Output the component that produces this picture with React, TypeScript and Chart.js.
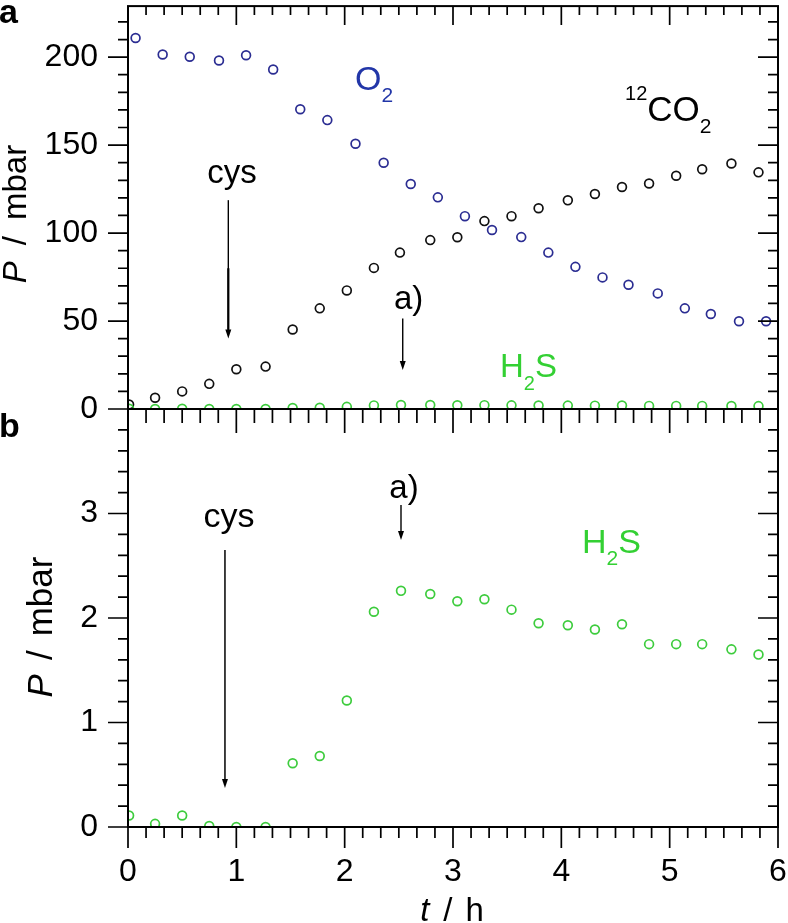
import React, { useEffect, useRef } from 'react';
import { Chart, registerables } from 'chart.js';
Chart.register(...registerables);

const FONT = '"Liberation Sans", Arial, Helvetica, sans-serif';

// ---- data (time in h, pressure in mbar) ----
const timeO2 = [0.07, 0.32, 0.57, 0.84, 1.09, 1.34, 1.59, 1.84, 2.10, 2.36, 2.61, 2.86, 3.11, 3.36, 3.63, 3.88, 4.13, 4.38, 4.62, 4.89, 5.14, 5.38, 5.64, 5.89];
const o2 = [210.9, 201.5, 200.2, 198.1, 201.1, 193, 170.4, 164.2, 150.8, 140, 127.9, 120.3, 109.6, 101.7, 97.7, 88.9, 80.8, 74.8, 70.6, 65.7, 57.2, 54, 49.9, 49.9];
const timeCO2 = [0.01, 0.25, 0.50, 0.75, 1.00, 1.27, 1.52, 1.77, 2.02, 2.27, 2.51, 2.79, 3.04, 3.29, 3.54, 3.79, 4.06, 4.31, 4.56, 4.81, 5.06, 5.30, 5.57, 5.82];
const co2 = [2.6, 6.4, 10, 14.3, 22.6, 24.1, 45.2, 57.2, 67.4, 80.2, 88.9, 96, 97.6, 106.8, 109.6, 114.1, 118.6, 122.2, 126.2, 128.2, 132.6, 136.3, 139.5, 134.5];
const timeH2S = [0.01, 0.25, 0.50, 0.75, 1.00, 1.27, 1.52, 1.77, 2.02, 2.27, 2.52, 2.79, 3.04, 3.29, 3.54, 3.79, 4.06, 4.31, 4.56, 4.81, 5.06, 5.30, 5.57, 5.82];
const h2s = [0.11, 0.03, 0.11, 0.01, 0.0, 0.0, 0.61, 0.68, 1.21, 2.06, 2.26, 2.23, 2.16, 2.18, 2.08, 1.95, 1.93, 1.89, 1.94, 1.75, 1.75, 1.75, 1.70, 1.65];

const xTicks = [0, 1, 2, 3, 4, 5, 6];
const topYTicks = [0, 50, 100, 150, 200];
const bottomYTicks = [0, 1, 2, 3];

const C_O2 = '#2b2d92';
const C_O2_LABEL = '#2236a8';
const C_CO2 = '#111111';
const C_H2S = '#3dcc3d';
const C_H2S_LABEL = '#33d033';

const pts = (xs: number[], ys: number[]) => xs.map((x, i) => ({ x, y: ys[i] }));

type Part = { t: string; size: number; style?: string; dy?: number; color?: string; gap?: number };

function drawParts(ctx: CanvasRenderingContext2D, parts: Part[], x: number, y: number, align: 'left' | 'center') {
  let total = 0;
  const widths = parts.map((p) => {
    ctx.font = `${p.style || ''} ${p.size}px ${FONT}`;
    const w = ctx.measureText(p.t).width + (p.gap || 0);
    total += w;
    return w;
  });
  let cx = align === 'center' ? x - total / 2 : x;
  ctx.textAlign = 'left';
  ctx.textBaseline = 'alphabetic';
  parts.forEach((p, i) => {
    ctx.font = `${p.style || ''} ${p.size}px ${FONT}`;
    ctx.fillStyle = p.color || '#000';
    ctx.fillText(p.t, cx, y + (p.dy || 0));
    cx += widths[i];
  });
}

function arrow(ctx: CanvasRenderingContext2D, x: number, y1: number, y2: number, lw = 1.5) {
  ctx.save();
  ctx.strokeStyle = '#000';
  ctx.fillStyle = '#000';
  ctx.lineWidth = lw;
  ctx.beginPath();
  ctx.moveTo(x, y1);
  ctx.lineTo(x, y2 - 6);
  ctx.stroke();
  ctx.beginPath();
  ctx.moveTo(x - 3, y2 - 9);
  ctx.lineTo(x + 3, y2 - 9);
  ctx.lineTo(x, y2);
  ctx.closePath();
  ctx.fill();
  ctx.restore();
}

function vTitle(ctx: CanvasRenderingContext2D, bx: number, cy: number, size: number, gap: number) {
  ctx.save();
  ctx.translate(bx, cy);
  ctx.rotate(-Math.PI / 2);
  drawParts(ctx, [
    { t: 'P', size, style: 'italic', gap },
    { t: '/', size, gap },
    { t: 'mbar', size },
  ], 0, 0, 'center');
  ctx.restore();
}

type TickCfg = { yStep: number; yMajor: number; yTop: number; topTicks: boolean; bottomLen: [number, number]; bottomDir: number };

function framePlugin(cfg: TickCfg, extra: (chart: any) => void) {
  return {
    id: 'frame',
    afterDraw(chart: any) {
      const { ctx, chartArea: a, scales } = chart;
      const xs = scales.x;
      const ys = scales.y;
      ctx.save();
      ctx.strokeStyle = '#000';
      ctx.lineWidth = 2;
      ctx.strokeRect(a.left, a.top, a.right - a.left, a.bottom - a.top);
      ctx.lineWidth = 1.7;
      ctx.beginPath();
      const ny = Math.round(cfg.yTop / cfg.yStep);
      for (let i = 0; i <= ny; i++) {
        const v = i * cfg.yStep;
        const py = ys.getPixelForValue(v);
        const major = Math.abs(v / cfg.yMajor - Math.round(v / cfg.yMajor)) < 1e-6;
        const len = major ? 20 : 10;
        ctx.moveTo(a.left - len, py);
        ctx.lineTo(a.left, py);
        ctx.moveTo(a.right - len, py);
        ctx.lineTo(a.right, py);
      }
      for (let i = 0; i <= 36; i++) {
        const v = i / 6;
        const px = xs.getPixelForValue(v);
        const major = i % 6 === 0;
        if (cfg.topTicks) {
          const lt = major ? 19 : 9;
          ctx.moveTo(px, a.top);
          ctx.lineTo(px, a.top + lt);
        }
        const lb = major ? cfg.bottomLen[0] : cfg.bottomLen[1];
        ctx.moveTo(px, a.bottom);
        ctx.lineTo(px, a.bottom + lb * cfg.bottomDir);
      }
      ctx.stroke();
      ctx.restore();
      ctx.save();
      extra(chart);
      ctx.restore();
    },
  };
}

const baseScatter = (label: string, data: { x: number; y: number }[], color: string) => ({
  label,
  data,
  showLine: false,
  pointStyle: 'circle',
  pointRadius: 4.4,
  pointHoverRadius: 4.4,
  pointBorderWidth: 1.7,
  borderColor: color,
  backgroundColor: 'rgba(0,0,0,0)',
});

function configTop(): any {
  return {
    type: 'scatter',
    data: {
      datasets: [
        baseScatter('H2S', pts(timeH2S, h2s), C_H2S),
        baseScatter('12CO2', pts(timeCO2, co2), C_CO2),
        baseScatter('O2', pts(timeO2, o2), C_O2),
      ],
    },
    options: {
      responsive: false,
      animation: false,
      events: [],
      layout: { padding: { left: 0, right: 10, top: 4, bottom: 923 - 409 } },
      plugins: { legend: { display: false }, tooltip: { enabled: false } },
      scales: {
        x: { type: 'linear', min: xTicks[0], max: xTicks[xTicks.length - 1], display: false },
        y: {
          type: 'linear',
          position: 'left',
          min: 0,
          max: 229,
          afterFit(s: any) { s.width = 128; s.paddingTop = 0; s.paddingBottom = 0; },
          afterBuildTicks(s: any) { s.ticks = topYTicks.map((v) => ({ value: v })); },
          border: { display: false },
          grid: { display: true, drawOnChartArea: false, drawTicks: true, tickLength: 20, color: 'rgba(0,0,0,0)' },
          ticks: { padding: 10, color: '#000', font: { family: FONT, size: 32 } },
        },
      },
    },
    plugins: [
      framePlugin({ yStep: 10, yMajor: 50, yTop: 220, topTicks: true, bottomLen: [24, 14], bottomDir: 1 }, (chart) => {
        const { ctx, scales } = chart;
        const X = (v: number) => scales.x.getPixelForValue(v);
        const Y = (v: number) => scales.y.getPixelForValue(v);
        drawParts(ctx, [{ t: 'a', size: 34, style: 'bold' }], -1, 23, 'left');
        vTitle(ctx, 26, 214, 33, 16);
        drawParts(ctx, [{ t: 'cys', size: 33 }], X(0.96), Y(128.4), 'center');
        arrow(ctx, X(0.926), Y(118.7), Y(40.1), 1.4);
        ctx.save();
        ctx.strokeStyle = '#000';
        ctx.lineWidth = 2.2;
        ctx.beginPath();
        ctx.moveTo(X(0.926), Y(80));
        ctx.lineTo(X(0.926), Y(45));
        ctx.stroke();
        ctx.restore();
        drawParts(ctx, [{ t: 'a)', size: 33 }], X(2.59), Y(57.1), 'center');
        arrow(ctx, X(2.536), Y(51.5), Y(22.1), 1.4);
        drawParts(ctx, [
          { t: 'O', size: 34, color: C_O2_LABEL },
          { t: '2', size: 21, dy: 12, color: C_O2_LABEL },
        ], X(2.095), Y(181.5), 'left');
        drawParts(ctx, [
          { t: '12', size: 20, dy: -21 },
          { t: 'CO', size: 35 },
          { t: '2', size: 21, dy: 12 },
        ], X(4.588), Y(163.5), 'left');
        drawParts(ctx, [
          { t: 'H', size: 33, color: C_H2S_LABEL },
          { t: '2', size: 20, dy: 13, color: C_H2S_LABEL },
          { t: 'S', size: 33, color: C_H2S_LABEL },
        ], X(3.434), Y(18.1), 'left');
      }),
    ],
  };
}

function configBottom(): any {
  return {
    type: 'scatter',
    data: { datasets: [baseScatter('H2S', pts(timeH2S, h2s), C_H2S)] },
    options: {
      responsive: false,
      animation: false,
      events: [],
      layout: { padding: { left: 0, right: 10, top: 409, bottom: 0 } },
      plugins: { legend: { display: false }, tooltip: { enabled: false } },
      scales: {
        x: {
          type: 'linear',
          position: 'bottom',
          min: xTicks[0],
          max: xTicks[xTicks.length - 1],
          afterFit(s: any) { s.height = 96; s.paddingLeft = 0; s.paddingRight = 0; },
          afterBuildTicks(s: any) { s.ticks = xTicks.map((v) => ({ value: v })); },
          border: { display: false },
          grid: { display: true, drawOnChartArea: false, drawTicks: true, tickLength: 20, color: 'rgba(0,0,0,0)' },
          ticks: { padding: 6, color: '#000', maxRotation: 0, autoSkip: false, font: { family: FONT, size: 32 } },
        },
        y: {
          type: 'linear',
          position: 'left',
          min: 0,
          max: 4,
          afterFit(s: any) { s.width = 128; s.paddingTop = 0; s.paddingBottom = 0; },
          afterBuildTicks(s: any) { s.ticks = bottomYTicks.map((v) => ({ value: v })); },
          border: { display: false },
          grid: { display: true, drawOnChartArea: false, drawTicks: true, tickLength: 20, color: 'rgba(0,0,0,0)' },
          ticks: { padding: 10, color: '#000', font: { family: FONT, size: 32 } },
        },
      },
    },
    plugins: [
      framePlugin({ yStep: 0.2, yMajor: 1, yTop: 3.8, topTicks: false, bottomLen: [21, 11], bottomDir: 1 }, (chart) => {
        const { ctx, scales } = chart;
        const X = (v: number) => scales.x.getPixelForValue(v);
        const Y = (v: number) => scales.y.getPixelForValue(v);
        drawParts(ctx, [{ t: 'b', size: 34, style: 'bold' }], -1, 437, 'left');
        vTitle(ctx, 52, 627, 35, 14);
        drawParts(ctx, [
          { t: 't', size: 33, style: 'italic', gap: 14 },
          { t: '/', size: 33, gap: 13 },
          { t: 'h', size: 33 },
        ], 452, 921, 'center');
        drawParts(ctx, [{ t: 'cys', size: 34 }], X(0.932), Y(2.871), 'center');
        arrow(ctx, X(0.895), Y(2.651), Y(0.373), 1.5);
        drawParts(ctx, [{ t: 'a)', size: 33 }], X(2.548), Y(3.148), 'center');
        arrow(ctx, X(2.52), Y(3.081), Y(2.746), 1.4);
        drawParts(ctx, [
          { t: 'H', size: 34, color: C_H2S_LABEL },
          { t: '2', size: 21, dy: 12, color: C_H2S_LABEL },
          { t: 'S', size: 34, color: C_H2S_LABEL },
        ], X(4.191), Y(2.622), 'left');
      }),
    ],
  };
}

export default function App() {
  const refA = useRef<HTMLCanvasElement>(null);
  const refB = useRef<HTMLCanvasElement>(null);
  useEffect(() => {
    const a = new Chart(refA.current as HTMLCanvasElement, configTop());
    const b = new Chart(refB.current as HTMLCanvasElement, configBottom());
    return () => {
      a.destroy();
      b.destroy();
    };
  }, []);
  return (
    <div style={{ position: 'absolute', left: 0, top: 0, width: 788, height: 923, background: '#fff', overflow: 'hidden' }}>
      <canvas ref={refA} width={788} height={923} style={{ position: 'absolute', left: 0, top: 0 }} />
      <canvas ref={refB} width={788} height={923} style={{ position: 'absolute', left: 0, top: 0 }} />
    </div>
  );
}
